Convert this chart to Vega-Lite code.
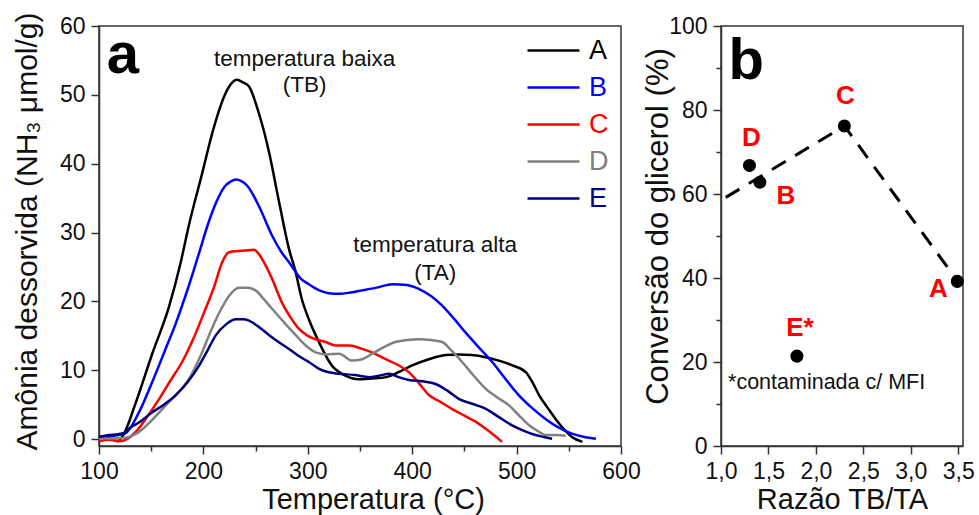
{
  "$schema": "https://vega.github.io/schema/vega-lite/v6.json",
  "background": "white",
  "padding": {"left": 11, "top": 11, "right": 2, "bottom": 2},
  "spacing": 0,
  "config": {
    "font": "Liberation Sans",
    "view": {"stroke": "#333", "strokeWidth": 1.5},
    "axis": {
      "grid": false,
      "domainColor": "#333", "domainWidth": 1.5,
      "tickColor": "#333", "tickWidth": 1.5,
      "labelFontSize": 23, "labelColor": "#111", "labelPadding": 6,
      "labelOverlap": false, "labelBound": false, "labelFlush": false,
      "titleFontSize": 29, "titleFontWeight": "normal", "titleColor": "#111"
    }
  },
  "datasets": {
    "tpd": [
      {"s":"A","T":100,"v":0.3},{"s":"A","T":110,"v":0.1},{"s":"A","T":118,"v":-0.3},{"s":"A","T":124,"v":0.8},{"s":"A","T":135,"v":5.2},{"s":"A","T":151,"v":12.4},{"s":"A","T":167,"v":19.2},{"s":"A","T":178,"v":25.5},{"s":"A","T":186,"v":31},{"s":"A","T":199,"v":38.7},{"s":"A","T":208.6,"v":44.5},{"s":"A","T":220,"v":49.8},{"s":"A","T":226,"v":51.5},{"s":"A","T":232,"v":52.2},{"s":"A","T":238,"v":51.8},{"s":"A","T":243.7,"v":51.2},{"s":"A","T":253,"v":47.4},{"s":"A","T":263,"v":41.6},{"s":"A","T":272,"v":34.8},{"s":"A","T":282,"v":27.6},{"s":"A","T":288,"v":24.5},{"s":"A","T":294,"v":20.5},{"s":"A","T":301,"v":17.4},{"s":"A","T":311,"v":14.0},{"s":"A","T":323,"v":10.7},{"s":"A","T":335,"v":9.3},{"s":"A","T":349,"v":8.7},{"s":"A","T":362,"v":8.8},{"s":"A","T":375,"v":9.0},{"s":"A","T":388,"v":9.8},{"s":"A","T":400,"v":10.7},{"s":"A","T":416,"v":11.6},{"s":"A","T":432,"v":12.2},{"s":"A","T":445,"v":12.3},{"s":"A","T":457,"v":12.2},{"s":"A","T":470,"v":11.9},{"s":"A","T":483,"v":11.4},{"s":"A","T":496,"v":10.7},{"s":"A","T":509,"v":9.7},{"s":"A","T":515,"v":8.3},{"s":"A","T":521.5,"v":6.4},{"s":"A","T":530,"v":4.5},{"s":"A","T":537.5,"v":2.9},{"s":"A","T":545,"v":1.5},{"s":"A","T":553,"v":0.3},{"s":"A","T":563,"v":-0.4},
      {"s":"B","T":100,"v":0.3},{"s":"B","T":115,"v":0.5},{"s":"B","T":125,"v":0.8},{"s":"B","T":138,"v":3.8},{"s":"B","T":151,"v":8.3},{"s":"B","T":163,"v":12.8},{"s":"B","T":174,"v":17},{"s":"B","T":185,"v":21.8},{"s":"B","T":196,"v":27.1},{"s":"B","T":205,"v":31.5},{"s":"B","T":212,"v":34.3},{"s":"B","T":221,"v":36.8},{"s":"B","T":226,"v":37.4},{"s":"B","T":231.5,"v":37.7},{"s":"B","T":236,"v":37.5},{"s":"B","T":242,"v":36.8},{"s":"B","T":253,"v":33.9},{"s":"B","T":266,"v":29.5},{"s":"B","T":275,"v":27.1},{"s":"B","T":282,"v":25.7},{"s":"B","T":294,"v":23.2},{"s":"B","T":301,"v":22.5},{"s":"B","T":311,"v":21.6},{"s":"B","T":320,"v":21.2},{"s":"B","T":330,"v":21.1},{"s":"B","T":341,"v":21.3},{"s":"B","T":352,"v":21.6},{"s":"B","T":366,"v":22.0},{"s":"B","T":381,"v":22.5},{"s":"B","T":395,"v":22.4},{"s":"B","T":406.6,"v":21.8},{"s":"B","T":418,"v":20.8},{"s":"B","T":428.7,"v":19.4},{"s":"B","T":440,"v":17.5},{"s":"B","T":451,"v":15.5},{"s":"B","T":464,"v":13.3},{"s":"B","T":476.7,"v":11.2},{"s":"B","T":489,"v":8.8},{"s":"B","T":502,"v":6.4},{"s":"B","T":515,"v":4.5},{"s":"B","T":528,"v":2.9},{"s":"B","T":540,"v":1.7},{"s":"B","T":553,"v":0.8},{"s":"B","T":565,"v":0.3},{"s":"B","T":576,"v":0.05},
      {"s":"C","T":100,"v":-0.3},{"s":"C","T":110,"v":-0.1},{"s":"C","T":120,"v":-0.3},{"s":"C","T":128,"v":0.1},{"s":"C","T":135,"v":1},{"s":"C","T":146,"v":3.2},{"s":"C","T":157.5,"v":5.8},{"s":"C","T":168,"v":8.4},{"s":"C","T":179.6,"v":11.2},{"s":"C","T":191,"v":14.8},{"s":"C","T":202,"v":18.9},{"s":"C","T":210,"v":22},{"s":"C","T":218,"v":25.7},{"s":"C","T":224,"v":27.1},{"s":"C","T":231,"v":27.3},{"s":"C","T":240,"v":27.4},{"s":"C","T":248.5,"v":27.5},{"s":"C","T":253,"v":26.9},{"s":"C","T":259.7,"v":25.2},{"s":"C","T":266,"v":23.2},{"s":"C","T":275,"v":19.9},{"s":"C","T":283,"v":17.8},{"s":"C","T":291.6,"v":16},{"s":"C","T":300,"v":15},{"s":"C","T":307.6,"v":14.5},{"s":"C","T":317,"v":14.1},{"s":"C","T":326.8,"v":13.6},{"s":"C","T":340,"v":13.6},{"s":"C","T":352,"v":13.1},{"s":"C","T":363,"v":12.5},{"s":"C","T":374.6,"v":11.6},{"s":"C","T":386,"v":10.8},{"s":"C","T":397,"v":9.7},{"s":"C","T":406,"v":8.2},{"s":"C","T":416,"v":6.4},{"s":"C","T":427,"v":5.4},{"s":"C","T":438,"v":4.4},{"s":"C","T":450,"v":3.4},{"s":"C","T":461,"v":2.5},{"s":"C","T":473,"v":1.2},{"s":"C","T":486,"v":-0.4},
      {"s":"D","T":100,"v":0.1},{"s":"D","T":115,"v":0.1},{"s":"D","T":125,"v":0.2},{"s":"D","T":138,"v":1},{"s":"D","T":151,"v":2.8},{"s":"D","T":164,"v":4.9},{"s":"D","T":175,"v":6.6},{"s":"D","T":186,"v":8.7},{"s":"D","T":197,"v":12},{"s":"D","T":208,"v":16},{"s":"D","T":216,"v":18.6},{"s":"D","T":224.5,"v":20.8},{"s":"D","T":234,"v":22.0},{"s":"D","T":243,"v":22.0},{"s":"D","T":250,"v":21.6},{"s":"D","T":258,"v":20.3},{"s":"D","T":266,"v":18.9},{"s":"D","T":277,"v":17.0},{"s":"D","T":288.5,"v":15.1},{"s":"D","T":298,"v":13.6},{"s":"D","T":307.6,"v":12.6},{"s":"D","T":318,"v":12.3},{"s":"D","T":330,"v":12.4},{"s":"D","T":342.5,"v":11.4},{"s":"D","T":352,"v":11.6},{"s":"D","T":361.6,"v":12.4},{"s":"D","T":372,"v":13.3},{"s":"D","T":384,"v":14.1},{"s":"D","T":395,"v":14.4},{"s":"D","T":406.6,"v":14.5},{"s":"D","T":418,"v":14.4},{"s":"D","T":428.7,"v":14.1},{"s":"D","T":438,"v":12.8},{"s":"D","T":447.8,"v":11.2},{"s":"D","T":459,"v":9.2},{"s":"D","T":470.5,"v":7.3},{"s":"D","T":482,"v":6.0},{"s":"D","T":492.8,"v":4.9},{"s":"D","T":502,"v":3.5},{"s":"D","T":512,"v":2.0},{"s":"D","T":520,"v":1.2},{"s":"D","T":528,"v":0.6},{"s":"D","T":537,"v":0.6},{"s":"D","T":547,"v":0.5},
      {"s":"E","T":100,"v":0.3},{"s":"E","T":110,"v":0.6},{"s":"E","T":118,"v":0.7},{"s":"E","T":124,"v":0.9},{"s":"E","T":128.7,"v":1.5},{"s":"E","T":140,"v":2.6},{"s":"E","T":151,"v":3.9},{"s":"E","T":162,"v":5},{"s":"E","T":173.5,"v":6.4},{"s":"E","T":185,"v":8.3},{"s":"E","T":196,"v":10.7},{"s":"E","T":204,"v":12.9},{"s":"E","T":212,"v":15.1},{"s":"E","T":222,"v":16.7},{"s":"E","T":231,"v":17.4},{"s":"E","T":238,"v":17.4},{"s":"E","T":243.7,"v":17.2},{"s":"E","T":253,"v":16.3},{"s":"E","T":263,"v":15.1},{"s":"E","T":272,"v":14.1},{"s":"E","T":282,"v":13.1},{"s":"E","T":291,"v":12.1},{"s":"E","T":301,"v":11.2},{"s":"E","T":310.8,"v":10.2},{"s":"E","T":320,"v":9.7},{"s":"E","T":330,"v":9.5},{"s":"E","T":345,"v":9.3},{"s":"E","T":358.7,"v":9.0},{"s":"E","T":368,"v":9.2},{"s":"E","T":377.8,"v":9.5},{"s":"E","T":387,"v":9.0},{"s":"E","T":397,"v":8.6},{"s":"E","T":410,"v":8.4},{"s":"E","T":422.5,"v":8.0},{"s":"E","T":434,"v":7.0},{"s":"E","T":445,"v":5.8},{"s":"E","T":458,"v":5.1},{"s":"E","T":470.5,"v":4.4},{"s":"E","T":483,"v":3.2},{"s":"E","T":495.7,"v":2.0},{"s":"E","T":507,"v":1.2},{"s":"E","T":518,"v":0.6},{"s":"E","T":526,"v":0.3},{"s":"E","T":534,"v":0.05}
    ],
    "pts": [
      {"id":"A","r":3.49,"c":39.2},
      {"id":"B","r":1.41,"c":62.8},
      {"id":"C","r":2.30,"c":76.2},
      {"id":"D","r":1.30,"c":66.8},
      {"id":"E*","r":1.80,"c":21.4}
    ],
    "trend": [
      {"r":1.05,"c":59.2},
      {"r":2.30,"c":76.2},
      {"r":3.46,"c":40.3}
    ]
  },
  "hconcat": [
    {
      "width": 522,
      "height": 420,
      "layer": [
        {
          "data": {"name": "tpd"},
          "mark": {"type": "line", "strokeWidth": 2.5, "interpolate": "monotone"},
          "encoding": {
            "x": {
              "field": "T", "type": "quantitative",
              "scale": {"domain": [100, 600], "nice": false, "zero": false},
              "axis": {
                "title": "Temperatura (°C)",
                "values": [100,150,200,250,300,350,400,450,500,550,600],
                "labelExpr": "datum.value % 100 === 0 ? datum.label : ''",
                "tickSize": {"condition": {"test": "datum.value % 100 !== 0", "value": 5}, "value": 8},
                "titlePadding": 2,
                "titleX": 274
              }
            },
            "y": {
              "field": "v", "type": "quantitative",
              "scale": {"domain": [-1, 60], "nice": false, "zero": false},
              "axis": {
                "title": "Amônia dessorvida (NH₃ μmol/g)",
                "titleFontSize": 30,
                "values": [0,5,10,15,20,25,30,35,40,45,50,55,60],
                "labelExpr": "datum.value % 10 === 0 ? datum.label : ''",
                "tickSize": {"condition": {"test": "datum.value % 10 !== 0", "value": 5}, "value": 8},
                "titlePadding": 17,
                "titleY": 205
              }
            },
            "color": {
              "field": "s", "type": "nominal",
              "scale": {"domain": ["A","B","C","D","E"], "range": ["#000000","#0000ff","#ff0000","#808080","#000080"]},
              "legend": {
                "orient": "none", "legendX": 427, "legendY": 6,
                "title": null, "padding": 0,
                "symbolType": "stroke", "symbolSize": 2700, "symbolStrokeWidth": 2.5,
                "labelFontSize": 27, "labelOffset": 8, "rowPadding": 0, "clipHeight": 37,
                "encode": {
                  "labels": {"update": {"fill": {"signal": "datum.value === 'A' ? '#000000' : datum.value === 'B' ? '#0000ff' : datum.value === 'C' ? '#ff0000' : datum.value === 'D' ? '#808080' : '#000080'"}}}
                }
              }
            }
          }
        },
        {
          "data": {"values": [{}]},
          "mark": {"type": "text", "fontSize": 58, "fontWeight": "bold", "align": "left", "baseline": "alphabetic", "color": "#000"},
          "encoding": {"x": {"datum": 107.5}, "y": {"datum": 53.2}, "text": {"value": "a"}}
        },
        {
          "data": {"values": [{}]},
          "mark": {"type": "text", "fontSize": 22.5, "align": "center", "baseline": "alphabetic", "lineHeight": 26, "color": "#111"},
          "encoding": {"x": {"datum": 297}, "y": {"datum": 54.2}, "text": {"value": ["temperatura baixa", "(TB)"]}}
        },
        {
          "data": {"values": [{}]},
          "mark": {"type": "text", "fontSize": 22.5, "align": "center", "baseline": "alphabetic", "lineHeight": 28, "color": "#111"},
          "encoding": {"x": {"datum": 422}, "y": {"datum": 27.2}, "text": {"value": ["temperatura alta", "(TA)"]}}
        }
      ]
    },
    {
      "width": 242,
      "height": 420,
      "layer": [
        {
          "data": {"name": "trend"},
          "mark": {"type": "line", "strokeWidth": 3, "strokeDash": [16, 11], "color": "#000"},
          "encoding": {
            "x": {
              "field": "r", "type": "quantitative",
              "scale": {"domain": [1.0, 3.55], "nice": false, "zero": false},
              "axis": {
                "title": "Razão TB/TA",
                "values": [1.0,1.25,1.5,1.75,2.0,2.25,2.5,2.75,3.0,3.25,3.5],
                "labelExpr": "abs(datum.value*2 - round(datum.value*2)) < 0.01 ? replace(format(datum.value, '.1f'), '.', ',') : ''",
                "tickSize": {"condition": {"test": "abs(datum.value*2 - round(datum.value*2)) > 0.01", "value": 5}, "value": 8},
                "titlePadding": 2
              }
            },
            "y": {
              "field": "c", "type": "quantitative",
              "scale": {"domain": [0, 100], "nice": false, "zero": false},
              "axis": {
                "title": "Conversão do glicerol (%)",
                "titleFontSize": 31,
                "values": [0,10,20,30,40,50,60,70,80,90,100],
                "labelExpr": "datum.value % 20 === 0 ? datum.label : ''",
                "tickSize": {"condition": {"test": "datum.value % 20 !== 0", "value": 5}, "value": 8},
                "titlePadding": -6,
                "titleY": 200
              }
            }
          }
        },
        {
          "data": {"name": "pts"},
          "mark": {"type": "circle", "size": 170, "opacity": 1, "color": "#000"},
          "encoding": {"x": {"field": "r", "type": "quantitative"}, "y": {"field": "c", "type": "quantitative"}}
        },
        {
          "data": {"name": "pts"},
          "transform": [{"filter": "datum.id === 'D'"}],
          "mark": {"type": "text", "fontSize": 26, "fontWeight": "bold", "color": "#ff0000", "align": "center", "baseline": "middle", "dx": 2, "dy": -27},
          "encoding": {"x": {"field": "r", "type": "quantitative"}, "y": {"field": "c", "type": "quantitative"}, "text": {"field": "id"}}
        },
        {
          "data": {"name": "pts"},
          "transform": [{"filter": "datum.id === 'B'"}],
          "mark": {"type": "text", "fontSize": 26, "fontWeight": "bold", "color": "#ff0000", "align": "center", "baseline": "middle", "dx": 26, "dy": 14},
          "encoding": {"x": {"field": "r", "type": "quantitative"}, "y": {"field": "c", "type": "quantitative"}, "text": {"field": "id"}}
        },
        {
          "data": {"name": "pts"},
          "transform": [{"filter": "datum.id === 'C'"}],
          "mark": {"type": "text", "fontSize": 26, "fontWeight": "bold", "color": "#ff0000", "align": "center", "baseline": "middle", "dx": 1, "dy": -30},
          "encoding": {"x": {"field": "r", "type": "quantitative"}, "y": {"field": "c", "type": "quantitative"}, "text": {"field": "id"}}
        },
        {
          "data": {"name": "pts"},
          "transform": [{"filter": "datum.id === 'A'"}],
          "mark": {"type": "text", "fontSize": 26, "fontWeight": "bold", "color": "#ff0000", "align": "center", "baseline": "middle", "dx": -19, "dy": 8},
          "encoding": {"x": {"field": "r", "type": "quantitative"}, "y": {"field": "c", "type": "quantitative"}, "text": {"field": "id"}}
        },
        {
          "data": {"name": "pts"},
          "transform": [{"filter": "datum.id === 'E*'"}],
          "mark": {"type": "text", "fontSize": 26, "fontWeight": "bold", "color": "#ff0000", "align": "center", "baseline": "middle", "dx": 3, "dy": -28},
          "encoding": {"x": {"field": "r", "type": "quantitative"}, "y": {"field": "c", "type": "quantitative"}, "text": {"field": "id"}}
        },
        {
          "data": {"values": [{}]},
          "mark": {"type": "text", "fontSize": 21.5, "align": "center", "baseline": "middle", "color": "#111"},
          "encoding": {"x": {"datum": 2.113}, "y": {"datum": 14.9}, "text": {"value": "*contaminada c/ MFI"}}
        },
        {
          "data": {"values": [{}]},
          "mark": {"type": "text", "fontSize": 58, "fontWeight": "bold", "align": "left", "baseline": "alphabetic", "color": "#000"},
          "encoding": {"x": {"datum": 1.08}, "y": {"datum": 87.4}, "text": {"value": "b"}}
        }
      ]
    }
  ]
}
